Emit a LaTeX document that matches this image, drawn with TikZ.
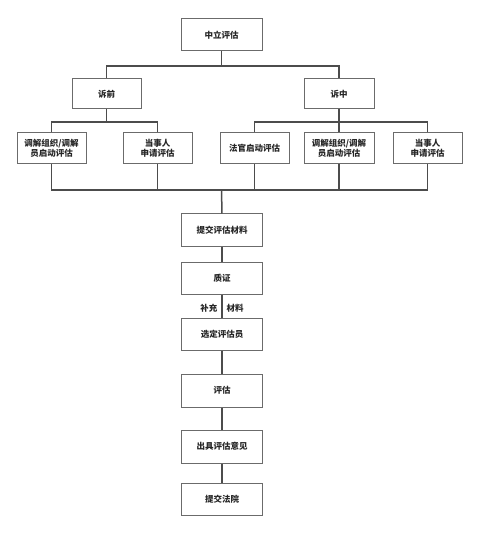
\documentclass[tikz,border=0pt]{standalone}
\usepackage{fontspec}
\setmainfont{Noto Sans CJK SC}
\begin{document}
\begin{tikzpicture}[x=1pt,y=-1pt,
  box/.style={draw=black!58, line width=1pt, fill=white, align=center, inner sep=1pt,
    font=\fontsize{8.5}{10.5}\selectfont\bfseries, text=black!85},
  cbox/.style={box, minimum width=81pt, minimum height=32pt},
  sbox/.style={box, minimum width=69pt, minimum height=31pt},
  conn/.style={draw=black!70, line width=1.5pt},
  lbl/.style={font=\fontsize{8.5}{10}\selectfont\bfseries, text=black!85, inner sep=1pt}]
\useasboundingbox (0,0) rectangle (480,534);
% nodes
\node[cbox] (top) at (221.5,35) {中立评估};
\node[sbox, minimum width=69pt, minimum height=30pt] (pre) at (106.5,94) {诉前};
\node[sbox, minimum width=70pt, minimum height=30pt] (mid) at (339,94) {诉中};
\node[sbox] (b1) at (51.5,148.5) {调解组织/调解\\员启动评估};
\node[sbox] (b2) at (157.5,148.5) {当事人\\申请评估};
\node[sbox] (b3) at (254.5,148.5) {法官启动评估};
\node[sbox, minimum width=70pt] (b4) at (339,148.5) {调解组织/调解\\员启动评估};
\node[sbox] (b5) at (427.5,148.5) {当事人\\申请评估};
\node[cbox] (s1) at (222,230) {提交评估材料};
\node[cbox] (s2) at (222,278) {质证};
\node[cbox] (s3) at (222,334) {选定评估员};
\node[cbox, minimum height=33pt] (s4) at (222,390.5) {评估};
\node[cbox, minimum height=33pt] (s5) at (222,446.5) {出具评估意见};
\node[cbox] (s6) at (222,499) {提交法院};
\coordinate (hub1) at (221.5,66);
\coordinate (hubL) at (106.5,122);
\coordinate (hubR) at (339,122);
\coordinate (bus) at (221.5,190);
% connectors
\draw[conn] (top.south) -- (hub1);
\draw[conn] (pre.north) |- (hub1) -| (mid.north);
\draw[conn] (pre.south) -- (hubL);
\draw[conn] (b1.north) |- (hubL) -| (b2.north);
\draw[conn] (mid.south) -- (hubR);
\draw[conn] (b3.north) |- (hubR) -| (b5.north);
\draw[conn] (hubR) -- (b4.north);
\draw[conn] (b1.south) |- (bus) -| (b5.south);
\draw[conn] (b2.south) -- (b2.south |- bus);
\draw[conn] (b3.south) -- (b3.south |- bus);
\draw[conn] (b4.south) -- (b4.south |- bus);
\draw[conn] (bus) -- (s1.north);
\draw[conn] (s1) -- (s2);
\draw[conn] (s2) -- (s3);
\draw[conn] (s3) -- (s4);
\draw[conn] (s4) -- (s5);
\draw[conn] (s5) -- (s6);
\node[lbl, anchor=east] (l1) at (218.5,308) {补充};
\node[lbl, anchor=west] (l2) at (225.5,308) {材料};
\end{tikzpicture}
\end{document}
